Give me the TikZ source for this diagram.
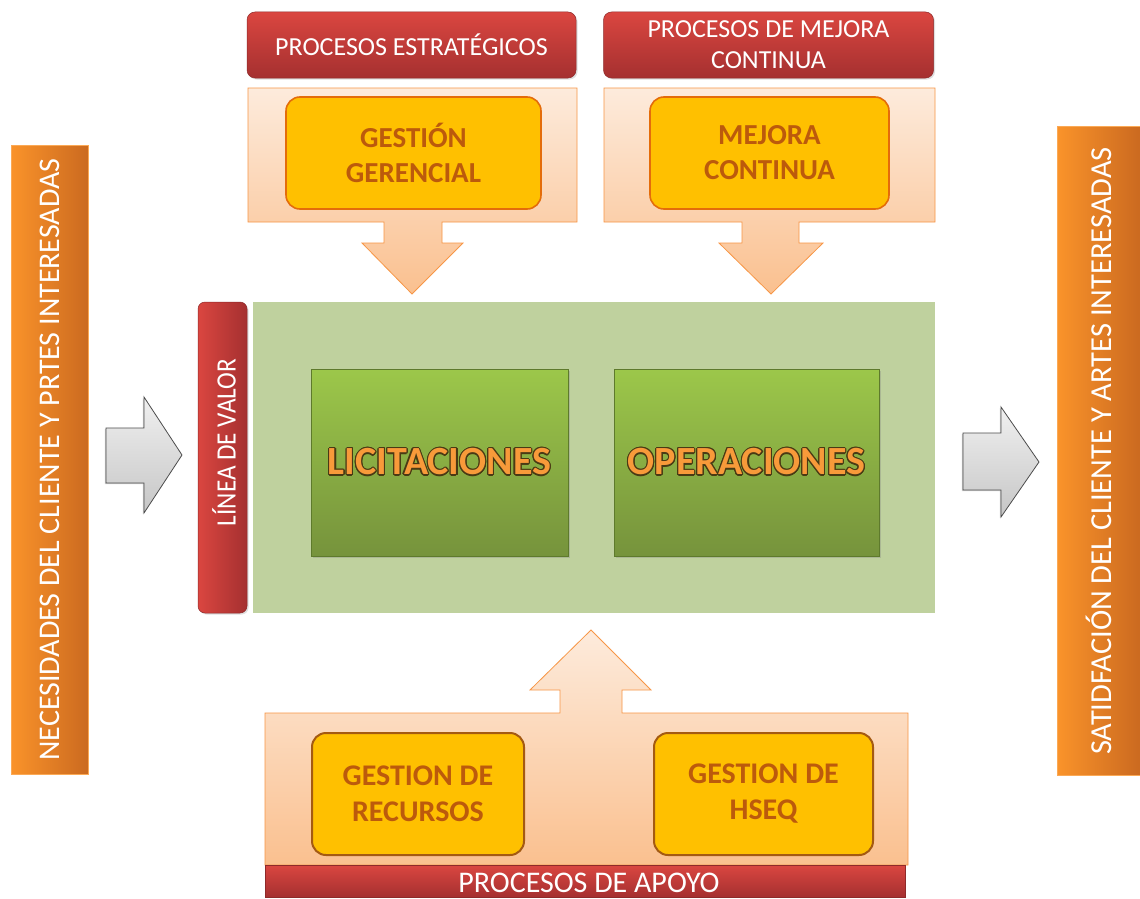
\documentclass[tikz,border=0pt]{standalone}
\usepackage{fontspec}
\setmainfont{Carlito}
\newfontfamily\condfont[FakeStretch=0.9]{Carlito}
\usepackage[copies]{contour}
\usetikzlibrary{shadows}

\definecolor{redtop}{HTML}{DA4640}
\definecolor{redbot}{HTML}{A53030}
\definecolor{redline}{HTML}{8E2A2A}
\definecolor{peachtop}{HTML}{FDEBDC}
\definecolor{peachbot}{HTML}{FAC08F}
\definecolor{peachline}{HTML}{F79646}
\definecolor{gold}{HTML}{FFC000}
\definecolor{goldline}{HTML}{E46C0A}
\definecolor{goldlinedark}{HTML}{A45A12}
\definecolor{goldtext}{HTML}{BC5A0C}
\definecolor{valuegreen}{HTML}{BFD19E}
\definecolor{greentop}{HTML}{9CC74A}
\definecolor{greenbot}{HTML}{76933C}
\definecolor{greenline}{HTML}{5E7A2C}
\definecolor{orangeL}{HTML}{FA932A}
\definecolor{orangeR}{HTML}{CB6A20}
\definecolor{wordorange}{HTML}{F89A3A}
\definecolor{wordedge}{HTML}{4A3A14}
\definecolor{greyT}{HTML}{F0F0F0}
\definecolor{greyB}{HTML}{C6C6C6}

\contourlength{1.1pt}

\tikzset{
  redbox/.style={rounded corners=8pt, top color=redtop, bottom color=redbot,
    draw=redline, line width=0.5pt, text=white, align=center, inner sep=0pt,
    drop shadow={opacity=0.25, shadow xshift=1.5pt, shadow yshift=-1.5pt}},
  panel/.style={top color=peachtop, bottom color=peachbot, draw=peachline, line width=0.8pt},
  goldbox/.style={rounded corners=14pt, fill=gold, draw=goldline, line width=1.6pt,
    text=goldtext, align=center, inner sep=0pt,
    font=\fontsize{29}{35}\selectfont\bfseries},
  goldboxdark/.style={goldbox, draw=goldlinedark, line width=2pt,
    font=\fontsize{30}{36}\selectfont\bfseries},
  greenbox/.style={top color=greentop, bottom color=greenbot, draw=greenline,
    line width=0.8pt, inner sep=0pt,
    drop shadow={opacity=0.3, shadow xshift=1.5pt, shadow yshift=-1.5pt},
    font=\fontsize{40}{44}\selectfont\bfseries},
  sidebar/.style={left color=orangeL, right color=orangeR, draw=orangeL!80!white,
    line width=0.6pt, inner sep=0pt, text=white, rotate=90},
  greyarrow/.style={top color=greyT, bottom color=greyB, draw=black!70, line width=0.8pt,
    drop shadow={opacity=0.35, shadow xshift=-1.2pt, shadow yshift=-1.2pt}},
}

\newcommand{\bigword}[1]{\contour{wordedge}{\textcolor{wordorange}{#1}}}

\begin{document}
\begin{tikzpicture}[x=1pt, y=-1pt]
  \useasboundingbox (0,0) rectangle (1140,899);
  \fill[white] (0,0) rectangle (1140,899);

  % side bars
  \node[sidebar, minimum width=629pt, minimum height=77pt,
        font=\fontsize{30}{33}\selectfont] (needs) at (49.5,459.5)
    {NECESIDADES DEL CLIENTE Y PRTES INTERESADAS};
  \node[sidebar, minimum width=649pt, minimum height=83pt,
        font=\fontsize{30.5}{33}\selectfont] (satis) at (1098.5,451)
    {SATIDFACIÓN DEL CLIENTE Y ARTES INTERESADAS};

  % input and output arrows
  \draw[greyarrow] (106,428) -- (144,428) -- (144,397) -- (182,455) -- (144,513)
    -- (144,483) -- (106,483) -- cycle;
  \draw[greyarrow] (963,433) -- (1001,433) -- (1001,407) -- (1039,462) -- (1001,517)
    -- (1001,490) -- (963,490) -- cycle;

  % strategic processes
  \node[redbox, minimum width=329pt, minimum height=66pt,
        font=\fontsize{26}{30}\selectfont] (estr) at (411.5,45) {PROCESOS ESTRATÉGICOS};
  \path[panel] (248,88) -- (577,88) -- (577,222) -- (442,222) -- (442,243) -- (463,243)
    -- (412,294) -- (362,243) -- (384,243) -- (384,222) -- (248,222) -- cycle;
  \node[goldbox, minimum width=255pt, minimum height=112pt] (gerencial) at (413.5,153)
    {GESTIÓN\\GERENCIAL};

  % continuous improvement
  \node[redbox, minimum width=330pt, minimum height=66pt,
        font=\fontsize{26}{31}\selectfont] (mejproc) at (768.5,45)
    {PROCESOS DE MEJORA\\CONTINUA};
  \path[panel] (604,88) -- (935,88) -- (935,222) -- (799,222) -- (799,243) -- (823,243)
    -- (771,294) -- (719,243) -- (742,243) -- (742,222) -- (604,222) -- cycle;
  \node[goldbox, minimum width=239pt, minimum height=112pt] (mejora) at (769.5,153)
    {MEJORA\\CONTINUA};

  % value chain
  \fill[valuegreen] (253,302) rectangle (935,613);
  \node[rounded corners=7pt, left color=redtop, right color=redbot, draw=redline,
        line width=0.5pt, inner sep=0pt, minimum width=49pt, minimum height=311pt,
        drop shadow={opacity=0.25, shadow xshift=1.5pt, shadow yshift=-1.5pt}]
    (valor) at (222.5,457.5) {};
  \node[rotate=90, text=white, inner sep=0pt, font=\fontsize{28}{30}\selectfont\condfont]
    (valortxt) at (224,442.5) {LÍNEA DE VALOR};
  \node[greenbox, minimum width=257pt, minimum height=187pt] (lic) at (439.5,462.5)
    {\bigword{LICITACIONES}};
  \node[greenbox, minimum width=265pt, minimum height=187pt] (ope) at (746.5,462.5)
    {\bigword{OPERACIONES}};

  % support processes
  \path[panel] (265,713) -- (560,713) -- (560,690) -- (530,690) -- (591,630) -- (651,690)
    -- (622,690) -- (622,713) -- (908,713) -- (908,865) -- (265,865) -- cycle;
  \node[goldboxdark, minimum width=212pt, minimum height=122pt] (recursos) at (418,794)
    {GESTION DE\\RECURSOS};
  \node[goldboxdark, minimum width=219pt, minimum height=122pt] (hseq) at (763.5,794)
    {GESTION DE\\HSEQ};
  \node[top color=redtop, bottom color=redbot, draw=redline, line width=0.5pt,
        inner sep=0pt, minimum width=640pt, minimum height=32pt] (apoyo) at (585,881) {};
  \node[text=white, inner sep=0pt, font=\fontsize{30}{32}\selectfont]
    (apoyotxt) at (589,883) {PROCESOS DE APOYO};
\end{tikzpicture}
\end{document}
